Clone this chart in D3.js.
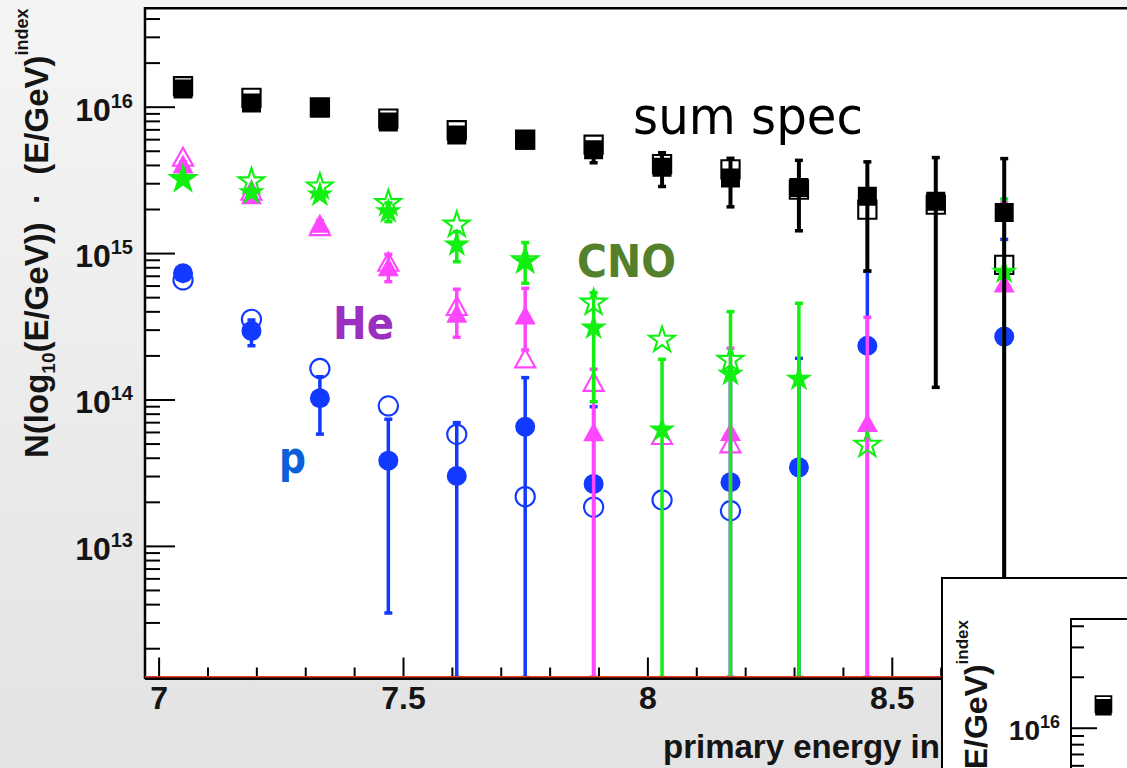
<!DOCTYPE html>
<html>
<head>
<meta charset="utf-8">
<script src="https://cdn.jsdelivr.net/npm/d3@7"></script>
<style>
  html, body { margin: 0; padding: 0; overflow: hidden; background: #eee; }
  svg { display: block; }
</style>
</head>
<body>
<svg id="chart" width="1127" height="768"></svg>
<script>
// Bin centres, log10(E/GeV)
const energies = [7.05, 7.19, 7.33, 7.47, 7.61, 7.75, 7.89, 8.03, 8.17, 8.31, 8.45, 8.59, 8.73];

// Summed spectrum: values (filled), error-bar ends, reference values (open)
const sumVal = [1.32e16, 1.06e16, 9.8e15, 7.85e15, 6.41e15, 5.9e15, 5.08e15, 3.85e15, 3.26e15, 2.8e15, 2.44e15, 2.26e15, 1.89e15];
const sumLo  = [1.28e16, 1.02e16, 9.4e15, 7.5e15, 6.1e15, 5.6e15, 4.14e15, 2.85e15, 2.07e15, 1.42e15, 7.55e14, 1.21e14, 0];
const sumHi  = [1.36e16, 1.10e16, 1.02e16, 8.2e15, 6.7e15, 6.2e15, 5.6e15, 4.85e15, 4.44e15, 4.3e15, 4.2e15, 4.49e15, 4.42e15];
const sumRef = [1.38e16, 1.15e16, 9.9e15, 8.28e15, 6.9e15, 5.95e15, 5.5e15, 4.05e15, 3.73e15, 2.71e15, 1.98e15, 2.14e15, 8.3e14];

// Protons
const pVal = [7.28e14, 2.94e14, 1.02e14, 3.82e13, 3.0e13, 6.51e13, 2.65e13, null, 2.72e13, 3.44e13, 2.33e14, null, 2.69e14];
const pLo  = [7.0e14, 2.33e14, 5.8e13, 3.48e12, 0, 0, 0, null, 0, 0, 0, null, 0];
const pHi  = [7.6e14, 3.49e14, 1.43e14, 7.33e13, 6.95e13, 1.41e14, 8.93e13, null, 1.45e14, 1.91e14, 7.5e14, null, 1.24e15];
const pRef = [6.55e14, 3.53e14, 1.63e14, 9.04e13, 5.78e13, 2.17e13, 1.84e13, 2.06e13, 1.74e13, null, null, null, null];

// Helium
const heVal = [4.06e15, 2.5e15, 1.6e15, 8.07e14, 3.88e14, 3.78e14, 6.02e13, null, 6.03e13, null, 6.95e13, null, 6.25e14];
const heLo  = [3.9e15, 2.4e15, 1.53e15, 6.38e14, 2.66e14, 2.18e14, 0, null, 0, null, 0, null, 0];
const heHi  = [4.2e15, 2.6e15, 1.67e15, 9.8e14, 5.66e14, 5.75e14, 1.61e14, null, 2.24e14, null, 3.64e14, null, 2.2e15];
const heRef = [4.55e15, 2.67e15, 1.53e15, 8.73e14, 4.36e14, 1.91e14, 1.32e14, 5.72e13, 5.02e13, null, null, null, null];

// CNO group
const cnoVal = [3.16e15, 2.59e15, 2.5e15, 1.92e15, 1.14e15, 8.73e14, 3.09e14, 6.2e13, 1.49e14, 1.38e14, null, null, 7.43e14];
const cnoLo  = [3.05e15, 2.5e15, 2.4e15, 1.64e15, 8.73e14, 6.22e14, 9.66e13, 0, 0, 0, null, null, 0];
const cnoHi  = [3.3e15, 2.7e15, 2.6e15, 2.2e15, 1.4e15, 1.18e15, 5.36e14, 1.88e14, 3.98e14, 4.54e14, null, null, 2.34e15];
const cnoRef = [3.2e15, 3.08e15, 2.84e15, 2.19e15, 1.56e15, 8.9e14, 4.58e14, 2.55e14, 1.86e14, null, 4.89e13, null, null];

// Axis ticks and labels
const xMajorTicks = [7, 7.5, 8, 8.5];
const xTickLabels = ["7", "7.5", "8", "8.5"];
const yDecades = [13, 14, 15, 16];
const yTickExps = ["13", "14", "15", "16"];

const W = 1127, H = 768;
const svg = d3.select("#chart");
const defs = svg.append("defs");

// page background: soft vertical grey gradient
const grad = defs.append("linearGradient").attr("id", "bg")
  .attr("x1", 0).attr("y1", 0).attr("x2", 0).attr("y2", 1);
grad.append("stop").attr("offset", "0%").attr("stop-color", "#f5f5f5");
grad.append("stop").attr("offset", "100%").attr("stop-color", "#e3e3e3");
svg.append("rect").attr("width", W).attr("height", H).attr("fill", "url(#bg)");

const labelFont = "'Liberation Sans', Arial, Helvetica, sans-serif";
const textColor = "#151515";

// triangle centred on its bounding box (ROOT-like marker)
const triangleUp = {
  draw(ctx, size) {
    const w = Math.sqrt(size), h = 0.9 * w;
    ctx.moveTo(0, -h / 2);
    ctx.lineTo(w / 2, h / 2);
    ctx.lineTo(-w / 2, h / 2);
    ctx.closePath();
  }
};

const series = [
  { key: "p",   color: "#1239ff", val: pVal,   lo: pLo,   hi: pHi,   ref: pRef,   sym: d3.symbolCircle, size: 314, bar: 3.5 },
  { key: "He",  color: "#ff46ff", val: heVal,  lo: heLo,  hi: heHi,  ref: heRef,  sym: triangleUp,      size: 441, bar: 3.5 },
  { key: "CNO", color: "#11f011", val: cnoVal, lo: cnoLo, hi: cnoHi, ref: cnoRef, sym: d3.symbolStar,   size: 220, bar: 3.5 },
];
const sumSeries = { key: "sum", color: "#000", val: sumVal, lo: sumLo, hi: sumHi, ref: sumRef, sym: d3.symbolSquare, size: 361, bar: 4 };

function points(s) {
  return energies.map((e, i) => ({ e, v: s.val[i], lo: s.lo[i], hi: s.hi[i], r: s.ref[i] }));
}

function drawBars(g, s, x, y, k) {
  const yb = y.range()[0];
  const data = points(s).filter(d => d.v != null);
  const lowY = d => (d.lo > 0 ? y(d.lo) : yb);
  g.selectAll(null).data(data).join("line")
    .attr("x1", d => x(d.e)).attr("x2", d => x(d.e))
    .attr("y1", lowY).attr("y2", d => y(d.hi))
    .attr("stroke", s.color).attr("stroke-width", s.bar * k);
  const capW = 8 * k, capH = 3.5 * k;
  g.selectAll(null).data(data.flatMap(d => [lowY(d), y(d.hi)].map(yy => ({ x: x(d.e), y: yy }))))
    .join("rect")
    .attr("x", d => d.x - capW / 2).attr("y", d => d.y - capH / 2)
    .attr("width", capW).attr("height", capH).attr("fill", s.color);
}

function drawFilled(g, s, x, y, k) {
  const sym = d3.symbol().type(s.sym).size(s.size * k * k);
  g.selectAll(null).data(points(s).filter(d => d.v != null)).join("path")
    .attr("d", sym)
    .attr("transform", d => `translate(${x(d.e)},${y(d.v)})`)
    .attr("fill", s.color);
}

function drawOpen(g, s, x, y, k) {
  const sym = d3.symbol().type(s.sym).size(s.size * k * k * 0.92);
  g.selectAll(null).data(points(s).filter(d => d.r != null)).join("path")
    .attr("d", sym)
    .attr("transform", d => `translate(${x(d.e)},${y(d.r)})`)
    .attr("fill", "none").attr("stroke", s.color).attr("stroke-width", 2.1 * k);
}

function drawData(g, x, y, k) {
  drawOpen(g, sumSeries, x, y, k);
  series.forEach(s => {
    drawBars(g, s, x, y, k);
    drawFilled(g, s, x, y, k);
    drawOpen(g, s, x, y, k);
  });
  drawBars(g, sumSeries, x, y, k);
  drawFilled(g, sumSeries, x, y, k);
}

function minorLogTicks(y) {
  const [lo, hi] = y.domain();
  const out = [];
  for (let p = Math.floor(Math.log10(lo)); p <= Math.ceil(Math.log10(hi)); p++) {
    for (let m = 2; m <= 9; m++) {
      const v = m * Math.pow(10, p);
      if (v > lo && v < hi) out.push(v);
    }
  }
  return out;
}

function yAxis(g, y, left, majorLen, minorLen, fontSize, supSize, supShift, pad, decades) {
  const ax = g.append("g").attr("transform", `translate(${left},0)`);
  ax.call(d3.axisLeft(y).tickValues(minorLogTicks(y)).tickSize(-minorLen).tickFormat(""))
    .call(a => a.select(".domain").remove());
  const maj = g.append("g").attr("transform", `translate(${left},0)`);
  maj.call(d3.axisLeft(y).tickValues(decades.map(p => Math.pow(10, p)))
      .tickSize(-majorLen).tickPadding(pad).tickFormat(""))
    .call(a => a.select(".domain").remove());
  g.selectAll(".tick line").attr("stroke", "#000").attr("stroke-width", 2);
  maj.selectAll(".tick text").each(function (d, i) {
    const t = d3.select(this)
      .attr("font-family", labelFont).attr("font-weight", "bold")
      .attr("font-size", fontSize).attr("fill", textColor).attr("dy", "0.42em");
    t.append("tspan").text("10");
    t.append("tspan").attr("font-size", supSize).attr("dy", -supShift)
      .text(yTickExps[yDecades.indexOf(decades[i])]);
  });
}

// ---------------- main panel ----------------
const frame = { left: 145, top: 8.3, right: 1140, bottom: 677.5 };
const xMain = d3.scaleLinear().domain([6.97218, 9.0078]).range([frame.left, frame.right]);
const yMain = d3.scaleLog().domain([Math.pow(10, 12.101), Math.pow(10, 16.672)]).range([frame.bottom, frame.top]);

svg.append("rect").attr("x", frame.left).attr("y", frame.top)
  .attr("width", frame.right - frame.left).attr("height", frame.bottom - frame.top).attr("fill", "#fff");

defs.append("clipPath").attr("id", "clipMain").append("rect")
  .attr("x", frame.left).attr("y", frame.top)
  .attr("width", frame.right - frame.left).attr("height", frame.bottom - frame.top + 2);

const gAxes = svg.append("g");
yAxis(gAxes, yMain, frame.left, 30, 15, 32, 20, 13, 12, yDecades);

// x axis: minor every 0.1, major every 0.5
const xMinor = d3.range(70, 91).map(v => v / 10).filter(v => !xMajorTicks.includes(v));
gAxes.append("g").attr("transform", `translate(0,${frame.bottom})`)
  .call(d3.axisBottom(xMain).tickValues(xMinor).tickSize(-10).tickFormat(""))
  .call(a => a.select(".domain").remove());
const xa2 = gAxes.append("g").attr("transform", `translate(0,${frame.bottom})`)
  .call(d3.axisBottom(xMain).tickValues(xMajorTicks).tickSize(-20).tickPadding(9)
    .tickFormat((d, i) => xTickLabels[i]))
  .call(a => a.select(".domain").remove());
gAxes.selectAll(".tick line").attr("stroke", "#000").attr("stroke-width", 2);
xa2.selectAll(".tick text").attr("font-family", labelFont).attr("font-weight", "bold")
  .attr("font-size", 32).attr("fill", textColor);

const gData = svg.append("g").attr("clip-path", "url(#clipMain)");
drawData(gData, xMain, yMain, 1);

// frame lines
svg.append("line").attr("x1", frame.left).attr("x2", frame.left).attr("y1", frame.top - 1.2).attr("y2", frame.bottom + 1.5)
  .attr("stroke", "#000").attr("stroke-width", 2.5);
svg.append("line").attr("x1", frame.left).attr("x2", W + 5).attr("y1", frame.top).attr("y2", frame.top)
  .attr("stroke", "#000").attr("stroke-width", 2.5);
svg.append("line").attr("x1", frame.left).attr("x2", W + 5).attr("y1", frame.bottom + 1).attr("y2", frame.bottom + 1)
  .attr("stroke", "#000").attr("stroke-width", 3);
svg.append("line").attr("x1", frame.left).attr("x2", W + 5).attr("y1", frame.bottom - 0.8).attr("y2", frame.bottom - 0.8)
  .attr("stroke", "#e8361e").attr("stroke-width", 1.5);

// axis titles
const yTitle = svg.append("text")
  .attr("transform", "translate(48,458) rotate(-90)")
  .attr("font-family", labelFont).attr("font-weight", "bold").attr("font-size", 33)
  .attr("fill", textColor).style("white-space", "pre");
yTitle.append("tspan").text("N(log");
yTitle.append("tspan").attr("font-size", 19).attr("dy", 7).text("10");
yTitle.append("tspan").attr("dy", -7).text("(E/GeV))  \u00b7  (E/GeV)");
yTitle.append("tspan").attr("font-size", 18).attr("dy", -20).text("index");

svg.append("text").attr("x", 663).attr("y", 758)
  .attr("font-family", labelFont).attr("font-weight", "bold").attr("font-size", 33)
  .attr("fill", textColor).text("primary energy in");

// in-plot labels
const tagFont = "'DejaVu Sans', Verdana, sans-serif";
svg.append("text").attr("x", 633).attr("y", 134).attr("font-family", tagFont)
  .attr("font-size", 52).attr("textLength", 230).attr("lengthAdjust", "spacingAndGlyphs")
  .attr("fill", "#000").text("sum spec");
svg.append("text").attr("x", 577).attr("y", 277).attr("font-family", tagFont).attr("font-weight", "bold")
  .attr("font-size", 45).attr("textLength", 99).attr("lengthAdjust", "spacingAndGlyphs")
  .attr("fill", "#54802c").text("CNO");
svg.append("text").attr("x", 333).attr("y", 339).attr("font-family", tagFont).attr("font-weight", "bold")
  .attr("font-size", 44).attr("textLength", 61).attr("lengthAdjust", "spacingAndGlyphs")
  .attr("fill", "#9b2fbf").text("He");
svg.append("text").attr("x", 279).attr("y", 473).attr("font-family", tagFont).attr("font-weight", "bold")
  .attr("font-size", 44).attr("textLength", 27).attr("lengthAdjust", "spacingAndGlyphs")
  .attr("fill", "#0b5fd8").text("p");

// ---------------- inset panel ----------------
const inset = svg.append("g");
inset.append("rect").attr("x", 942).attr("y", 578).attr("width", 400).attr("height", 400)
  .attr("fill", "#fff").attr("stroke", "#000").attr("stroke-width", 2);

const inFrame = { left: 1071, top: 619, right: 1071 + 2.0356 * 417, bottom: 900 };
const xIn = d3.scaleLinear().domain(xMain.domain()).range([inFrame.left, inFrame.right]);
const yIn = d3.scaleLog().domain([Math.pow(10, 14.983), Math.pow(10, 16.642)]).range([inFrame.bottom, inFrame.top]);

defs.append("clipPath").attr("id", "clipIn").append("rect")
  .attr("x", inFrame.left).attr("y", inFrame.top)
  .attr("width", inFrame.right - inFrame.left).attr("height", inFrame.bottom - inFrame.top);

// only the 10^16 label of the inset falls inside the page
yAxis(inset.append("g"), yIn, inFrame.left, 26, 13, 28, 18, 12, 11, [16]);
drawData(inset.append("g").attr("clip-path", "url(#clipIn)"), xIn, yIn, 0.87);

inset.append("line").attr("x1", inFrame.left).attr("x2", inFrame.left).attr("y1", inFrame.top - 1).attr("y2", H + 5)
  .attr("stroke", "#000").attr("stroke-width", 2);
inset.append("line").attr("x1", inFrame.left).attr("x2", W + 5).attr("y1", inFrame.top).attr("y2", inFrame.top)
  .attr("stroke", "#000").attr("stroke-width", 2);

const inTitle = inset.append("text")
  .attr("transform", "translate(987,620) rotate(-90)")
  .attr("text-anchor", "end")
  .attr("font-family", labelFont).attr("font-weight", "bold").attr("font-size", 32)
  .attr("fill", textColor).style("white-space", "pre");
inTitle.append("tspan").text("N(log");
inTitle.append("tspan").attr("font-size", 18).attr("dy", 7).text("10");
inTitle.append("tspan").attr("dy", -7).text("(E/GeV))  \u00b7  (E/GeV)");
inTitle.append("tspan").attr("font-size", 17).attr("dy", -19).text("index");
</script>
</body>
</html>
